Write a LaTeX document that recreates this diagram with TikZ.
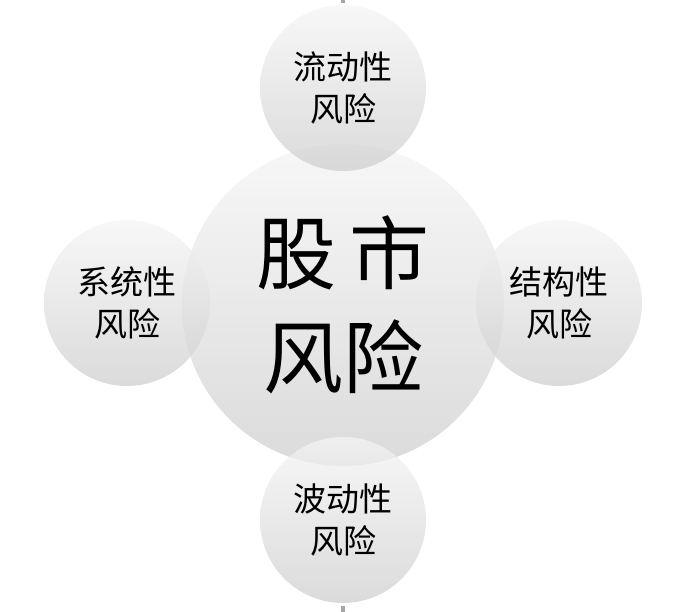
\documentclass[tikz,border=0pt]{standalone}
\usepackage{fontspec}
\newfontfamily\cjk{Noto Sans CJK SC}
\begin{document}
\begin{tikzpicture}[x=1pt,y=-1pt,
  ball/.style={circle,minimum size=#1,inner sep=0pt,top color=gray!8,bottom color=gray!38,fill opacity=0.75,text opacity=1,draw=none,align=center,font=\cjk},
  small/.style={ball=166pt,font=\cjk\fontsize{33}{42}\selectfont}]
\useasboundingbox (0,0) rectangle (688,612);
\fill[gray!70] (341,0) rectangle (345,3);
\fill[gray!70] (341,606) rectangle (345,612);
\node[ball=322pt,font=\cjk\fontsize{80}{104}\selectfont] (c) at (343,305) {股\,市\\风险};
\node[small] (t) at (343,88) {流动性\\风险};
\node[small] (l) at (127,303) {系统性\\风险};
\node[small] (r) at (559,303) {结构性\\风险};
\node[small] (b) at (343,520) {波动性\\风险};
\end{tikzpicture}
\end{document}
